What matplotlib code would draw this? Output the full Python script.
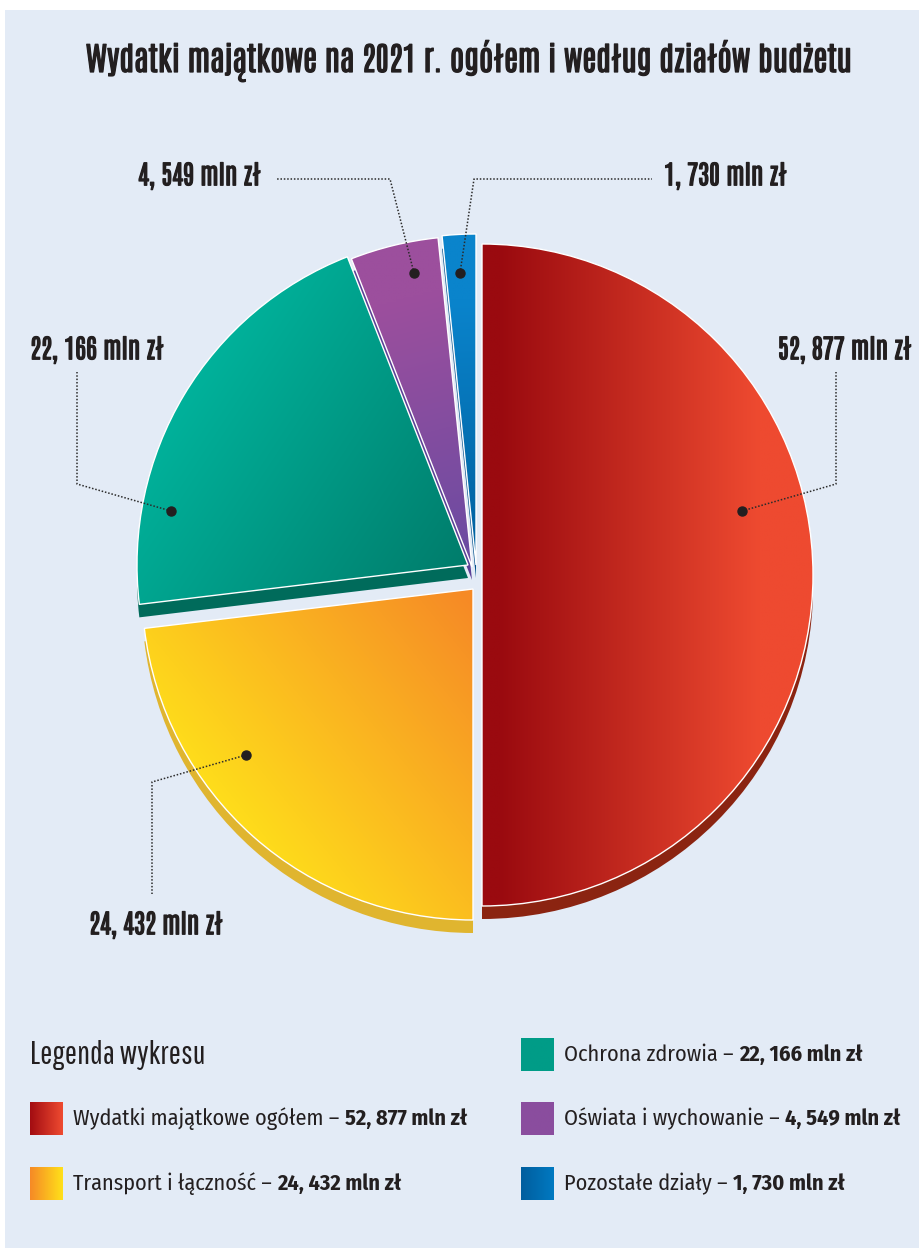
import matplotlib
matplotlib.use("Agg")
import matplotlib.pyplot as plt
import matplotlib.patheffects as pe
import numpy as np
from matplotlib.colors import to_rgb
from matplotlib.patches import Rectangle

# ---------------- data ----------------
CATEGORIES = ["Wydatki majątkowe ogółem", "Transport i łączność", "Ochrona zdrowia",
              "Oświata i wychowanie", "Pozostałe działy"]
VALUES = [52.877, 24.432, 22.166, 4.549, 1.730]
VALUE_LABELS = ["52, 877 mln zł", "24, 432 mln zł", "22, 166 mln zł", "4, 549 mln zł", "1, 730 mln zł"]
TITLE = "Wydatki majątkowe na 2021 r. ogółem i według działów budżetu"
LEGEND_TITLE = "Legenda wykresu"

# ---------------- style ----------------
W, H = 919, 1248
BG = "#E3EBF6"
TOP_GRAD = [("#9A0A0F", "#EE4A30", (500, 0), (760, 0)),
            ("#FFE41A", "#F68A26", (200, 820), (470, 600)),
            ("#00B39C", "#007B6A", (170, 400), (460, 590)),
            ("#9C4F9D", "#6A4BA2", (400, 300), (470, 560)),
            ("#0A84CC", "#00609E", (460, 300), (470, 560))]
SIDE_COLORS = ["#8B2411", "#E0B52F", "#006B5B", "#5B3F96", "#004F8A"]
CENTER = (477, 575)          # screen px
RADIUS = 331
DEPTH = 13
SLICE_SHIFT = [(5, 0), (-4, 14), (-9, -10), (-5, -8), (-1, -10)]   # screen px

# leader lines (screen px): polyline from dot outward
LEADERS = [[(742, 511), (836, 484), (836, 372)],
           [(246, 755), (152, 782), (152, 894)],
           [(171, 511), (77, 484), (77, 372)],
           [(414, 273), (390, 179), (277, 179)],
           [(460, 273), (474, 179), (652, 179)]]
LABEL_POS = [(913, 350, "right"), (88, 925, "left"), (29, 350, "left"),
             (137, 176, "left"), (663, 176, "left")]

LEG_SQ = [((30, 1102), "#A30D12", "#EE4A30"),
          ((30, 1167), "#F68A26", "#FFE01A"),
          ((521, 1038), "#009C87", "#009C87"),
          ((521, 1102), "#8A4D9E", "#8A4D9E"),
          ((521, 1167), "#005E9E", "#0079C1")]
SQ = 33

TITLE_FONT = ["Antonio", "League Gothic", "DejaVu Sans"]
LEG_TITLE_FONT = ["Pathway Gothic One", "DejaVu Sans"]
BODY_FONT = ["Fira Sans Condensed", "DejaVu Sans"]
TEXT_COLOR = "#231F20"
TITLE_WIDTH = 766
LABEL_WIDTH = 134      # width of "52, 877 mln zł"
HEAVY = [pe.withStroke(linewidth=0.9, foreground=TEXT_COLOR)]


def S(x, y):
    """screen px -> data coords (y up)"""
    return x, H - y


fig = plt.figure(figsize=(W / 100, H / 100), dpi=100, facecolor="white")
ax = fig.add_axes([0, 0, 1, 1])
renderer = fig.canvas.get_renderer()


def fit_size(text, family, target, base=20):
    t = fig.text(0, 0, text, fontsize=base, family=family)
    w = t.get_window_extent(renderer).width
    t.remove()
    return base * target / w


# panel
ax.add_patch(Rectangle((5, 0), W - 5, H - 10, facecolor=BG, edgecolor="none", zorder=0))

cx, cy = S(*CENTER)

# side (extrusion) pie
side, _ = ax.pie(VALUES, colors=SIDE_COLORS, startangle=90, counterclock=False,
                 radius=RADIUS, center=(cx, cy - DEPTH), frame=True,
                 wedgeprops=dict(linewidth=0, zorder=1))
# top pie
top, _ = ax.pie(VALUES, colors=["none"] * 5, startangle=90, counterclock=False,
                radius=RADIUS, center=(cx, cy), frame=True,
                wedgeprops=dict(edgecolor="white", linewidth=1.0, zorder=3))

for ws, wt, (dx, dy) in zip(side, top, SLICE_SHIFT):
    ws.set_center((cx + dx, cy - dy - DEPTH))
    wt.set_center((cx + dx, cy - dy))


def gradient_image(c1, c2, p1, p2, extent, n=300):
    x0, x1, y0, y1 = extent  # screen px extents
    xs = np.linspace(x0, x1, n)
    ys = np.linspace(y0, y1, n)
    X, Y = np.meshgrid(xs, ys)
    d = np.array(p2, float) - np.array(p1, float)
    t = ((X - p1[0]) * d[0] + (Y - p1[1]) * d[1]) / (d @ d)
    t = np.clip(t, 0, 1)[..., None]
    a, b = np.array(to_rgb(c1)), np.array(to_rgb(c2))
    return a * (1 - t) + b * t


ex = (CENTER[0] - RADIUS - 30, CENTER[0] + RADIUS + 30,
      CENTER[1] - RADIUS - 30, CENTER[1] + RADIUS + 30)
for wt, (c1, c2, p1, p2) in zip(top, TOP_GRAD):
    img = gradient_image(c1, c2, p1, p2, ex)
    im = ax.imshow(img, extent=(ex[0], ex[1], H - ex[3], H - ex[2]), origin="upper",
                   zorder=2, interpolation="bilinear")
    im.set_clip_path(wt)

# leader lines + dots
for pts in LEADERS:
    xs = [p[0] for p in pts]
    ys = [H - p[1] for p in pts]
    ax.plot(xs, ys, linestyle=(0, (1, 1.2)), color="#2b2b2b", linewidth=1.1, zorder=4)
    ax.plot(xs[0], ys[0], "o", color=TEXT_COLOR, markersize=6.5, zorder=5)

lab_size = fit_size(VALUE_LABELS[0], TITLE_FONT, LABEL_WIDTH)
for lab, (x, y, ha) in zip(VALUE_LABELS, LABEL_POS):
    ax.text(x - (1 if ha == "right" else -1), H - y, lab, ha=ha, va="center",
            fontsize=lab_size, family=TITLE_FONT, color=TEXT_COLOR, zorder=6,
            path_effects=HEAVY)

# title
title_size = fit_size(TITLE, TITLE_FONT, TITLE_WIDTH)
ax.text(469, H - 61, TITLE, ha="center", va="center", fontsize=title_size, family=TITLE_FONT,
        color=TEXT_COLOR, zorder=6, path_effects=HEAVY)

# legend
ax.text(30, H - 1055, LEGEND_TITLE, ha="left", va="center", fontsize=23.5,
        family=LEG_TITLE_FONT, color=TEXT_COLOR, zorder=6)

for (pos, c1, c2), cat, lab in zip(LEG_SQ, CATEGORIES, VALUE_LABELS):
    x0, y0 = pos
    img = gradient_image(c1, c2, (x0, 0), (x0 + SQ, 0), (x0, x0 + SQ, y0, y0 + SQ), n=40)
    ax.imshow(img, extent=(x0, x0 + SQ, H - y0 - SQ, H - y0), origin="upper", zorder=2,
              interpolation="bilinear")
    t1 = ax.text(x0 + SQ + 10, H - (y0 + SQ / 2), cat + " – ", ha="left", va="center",
                 fontsize=16, family=BODY_FONT, color=TEXT_COLOR, zorder=6)
    ax.annotate(lab, xy=(1, 0), xycoords=t1, ha="left", va="bottom",
                fontsize=16, family=BODY_FONT, fontweight="bold", color=TEXT_COLOR, zorder=6)

ax.set_xlim(0, W)
ax.set_ylim(0, H)
ax.set_aspect("auto")
ax.axis("off")
fig.savefig("out.png", dpi=100, facecolor="white")
